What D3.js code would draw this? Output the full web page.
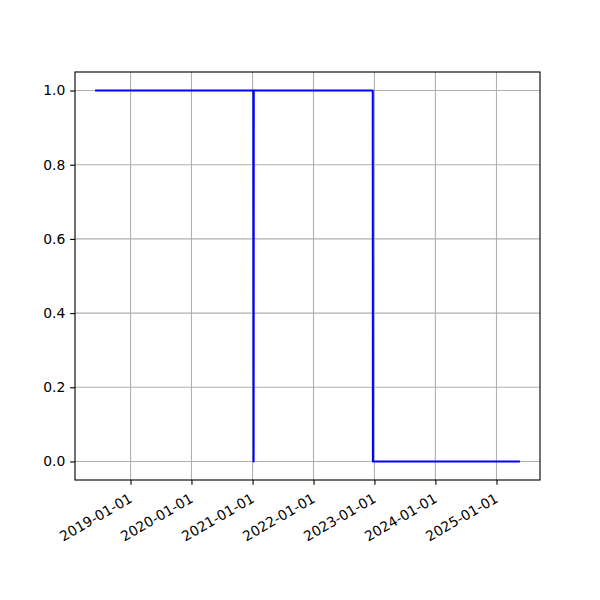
<!DOCTYPE html>
<html>
<head>
<meta charset="utf-8">
<script src="https://cdn.jsdelivr.net/npm/d3@7"></script>
<style>
body { margin: 0; background: #fff; }
text { font-family: "DejaVu Sans", sans-serif; }
</style>
</head>
<body>
<svg id="chart" width="600" height="600"></svg>
<script>
// Data
const dates = ["2018-06-09", "2021-01-06", "2021-01-07", "2021-01-08", "2022-12-22", "2022-12-23", "2025-05-15"];
const values = [1, 1, 0, 1, 1, 0, 0];
const xTickLabels = ["2019-01-01", "2020-01-01", "2021-01-01", "2022-01-01", "2023-01-01", "2024-01-01", "2025-01-01"];
const yTickValues = [0.0, 0.2, 0.4, 0.6, 0.8, 1.0];

(function () {
const parse = d3.utcParse("%Y-%m-%d");
const pts = dates.map((d, i) => ({ t: parse(d), v: values[i] }));

const svg = d3.select("#chart");
const mL = 75, mR = 540, mT = 72, mB = 480;
const tick = 4.86, pad = 4.86;

const tMin = d3.min(pts, d => d.t), tMax = d3.max(pts, d => d.t);
const span = tMax - tMin;
const x = d3.scaleUtc()
  .domain([new Date(+tMin - span * 0.05), new Date(+tMax + span * 0.05)])
  .range([mL, mR]);
const vMin = d3.min(values), vMax = d3.max(values);
const vs = vMax - vMin;
const y = d3.scaleLinear()
  .domain([vMin - vs * 0.05, vMax + vs * 0.05])
  .range([mB, mT]);

const xTicks = xTickLabels.map(s => parse(s));

// Grid
const grid = svg.append("g");
grid.selectAll("line.gx").data(xTicks).enter().append("line")
  .attr("x1", d => x(d)).attr("x2", d => x(d))
  .attr("y1", mT).attr("y2", mB)
  .attr("stroke", "#b0b0b0").attr("stroke-width", 1.11);
grid.selectAll("line.gy").data(yTickValues).enter().append("line")
  .attr("x1", mL).attr("x2", mR)
  .attr("y1", d => y(d)).attr("y2", d => y(d))
  .attr("stroke", "#b0b0b0").attr("stroke-width", 1.11);

// Line
const line = d3.line().x(d => x(d.t)).y(d => y(d.v));
svg.append("path").datum(pts)
  .attr("d", line)
  .attr("fill", "none")
  .attr("stroke", "#0000ff")
  .attr("stroke-width", 2.08)
  .attr("stroke-linejoin", "round")
  .attr("stroke-linecap", "square");

// Axes
const xAxis = d3.axisBottom(x).tickValues(xTicks).tickSize(tick).tickPadding(pad)
  .tickFormat(d3.utcFormat("%Y-%m-%d"));
const gx = svg.append("g").attr("transform", `translate(0,${mB})`).call(xAxis);
gx.select(".domain").remove();
gx.selectAll(".tick line").attr("stroke", "#000").attr("stroke-width", 1.11);
gx.selectAll(".tick text")
  .attr("font-size", "13.9px")
  .attr("fill", "#000")
  .attr("text-anchor", "end")
  .attr("x", 0).attr("y", 0).attr("dy", "0.75em")
  .attr("transform", `translate(-3,${tick + pad + 2.5}) rotate(-30)`);

const yAxis = d3.axisLeft(y).tickValues(yTickValues).tickSize(tick).tickPadding(pad)
  .tickFormat(d3.format(".1f"));
const gy = svg.append("g").attr("transform", `translate(${mL},0)`).call(yAxis);
gy.select(".domain").remove();
gy.selectAll(".tick line").attr("stroke", "#000").attr("stroke-width", 1.11);
gy.selectAll(".tick text").attr("font-size", "13.9px").attr("fill", "#000");

// Frame
svg.append("rect").attr("x", mL).attr("y", mT)
  .attr("width", mR - mL).attr("height", mB - mT)
  .attr("fill", "none").attr("stroke", "#000").attr("stroke-width", 1.11);
})();
</script>
</body>
</html>
